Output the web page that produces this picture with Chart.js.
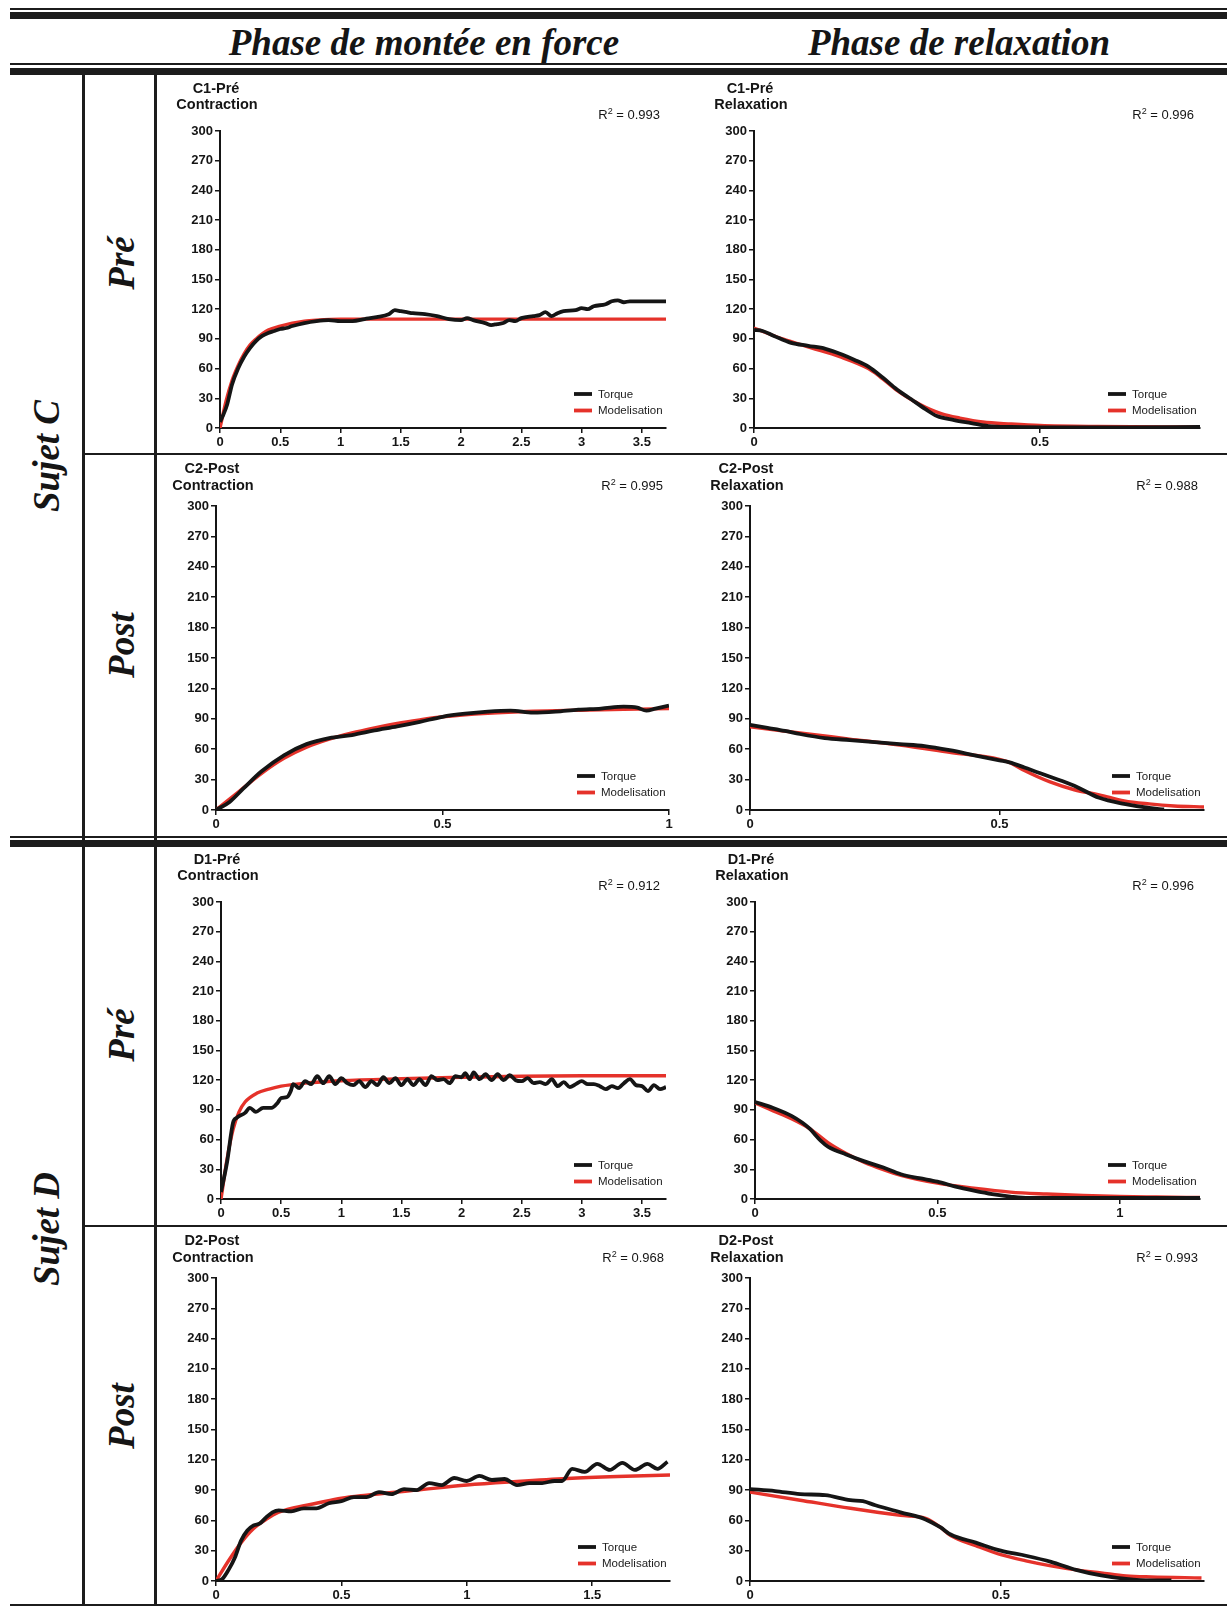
<!DOCTYPE html>
<html lang="fr">
<head>
<meta charset="utf-8">
<script src="https://cdn.jsdelivr.net/npm/chart.js@4.4.0/dist/chart.umd.min.js"></script>
<style>
  body { margin: 0; background: #fff; }
  #page { position: relative; width: 1227px; height: 1612px; overflow: hidden; background: #fff; }
  .rule { position: absolute; background: #1c1c1c; }
  .head, .rot {
    position: absolute; white-space: nowrap; color: #151515;
    font: italic bold 37px/37px "Liberation Serif", "Times New Roman", serif;
  }
  .head { width: 500px; text-align: center; top: 24px; }
  .rot { transform: translate(-50%, -50%) rotate(-90deg); }
  canvas { position: absolute; }
</style>
</head>
<body>
<div id="page">
  <!-- en-tête -->
  <div class="rule" style="left:10px;top:8px;width:1217px;height:2px"></div>
  <div class="rule" style="left:10px;top:12px;width:1217px;height:7px"></div>
  <div class="head" style="left:174px">Phase de montée en force</div>
  <div class="head" style="left:709px">Phase de relaxation</div>
  <div class="rule" style="left:10px;top:63px;width:1217px;height:2px"></div>
  <div class="rule" style="left:10px;top:68px;width:1217px;height:7px"></div>

  <!-- grille du tableau -->
  <div class="rule" style="left:82px;top:75px;width:3px;height:1531px"></div>
  <div class="rule" style="left:154px;top:75px;width:3px;height:1531px"></div>
  <div class="rule" style="left:82px;top:453px;width:1145px;height:2px"></div>
  <div class="rule" style="left:10px;top:836px;width:1217px;height:2px"></div>
  <div class="rule" style="left:10px;top:840px;width:1217px;height:7px"></div>
  <div class="rule" style="left:82px;top:1225px;width:1145px;height:2px"></div>
  <div class="rule" style="left:10px;top:1604px;width:1217px;height:2px"></div>

  <!-- libellés de lignes -->
  <div class="rot" style="left:46px;top:456px">Sujet C</div>
  <div class="rot" style="left:121px;top:263px">Pré</div>
  <div class="rot" style="left:121px;top:645px">Post</div>
  <div class="rot" style="left:46px;top:1229px">Sujet D</div>
  <div class="rot" style="left:121px;top:1035px">Pré</div>
  <div class="rot" style="left:121px;top:1416px">Post</div>
</div>

<script>
// === DONNÉES (temps en s, couple en N.m) =====================================
const yTickStep = 30;
const yMax = 300;
const xTickStep = 0.5;

// C1 - Pré
const c1ContrTorque = [[0,6],[0.03,14],[0.06,24],[0.1,44],[0.15,60],[0.2,72],[0.25,81],[0.3,88],[0.35,93],[0.4,96],[0.45,98],[0.5,100],[0.55,101],[0.6,103],[0.7,106],[0.8,108],[0.9,109],[1.0,108],[1.1,108],[1.2,110],[1.3,112],[1.4,115],[1.45,119],[1.5,118],[1.55,117],[1.6,116],[1.7,115],[1.8,113],[1.9,110],[2.0,109],[2.05,111],[2.1,109],[2.2,106],[2.25,104],[2.3,105],[2.35,106],[2.4,109],[2.45,108],[2.5,111],[2.6,113],[2.65,114],[2.7,117],[2.75,113],[2.8,116],[2.85,118],[2.95,119],[3.0,121],[3.05,120],[3.1,123],[3.2,125],[3.25,128],[3.3,129],[3.35,127],[3.4,128],[3.5,128],[3.7,128]];
const c1ContrModel  = [[0,0],[0.05,27],[0.1,48],[0.15,63],[0.2,75],[0.25,84],[0.3,90],[0.35,95],[0.4,99],[0.5,103],[0.6,106],[0.7,108],[0.8,109],[1.0,110],[1.5,110],[2.0,110],[3.7,110]];
const c1RelaxTorque = [[0,99],[0.015,98],[0.035,93],[0.065,86],[0.095,83],[0.125,80],[0.155,74],[0.175,69],[0.2,62],[0.225,51],[0.25,39],[0.275,29],[0.3,19],[0.32,12],[0.35,8],[0.38,5],[0.41,2],[0.45,1],[0.55,0.5],[0.65,0.5],[0.78,1]];
const c1RelaxModel  = [[0,101],[0.05,90],[0.1,81],[0.15,72],[0.2,60],[0.22,52],[0.25,38],[0.28,27],[0.3,21],[0.33,14],[0.36,10],[0.4,6],[0.45,4],[0.5,2.5],[0.6,1.5],[0.78,1]];

// C2 - Post
const c2ContrTorque = [[0,0],[0.03,8],[0.06,21],[0.1,38],[0.15,54],[0.2,65],[0.25,71],[0.3,74],[0.35,78.5],[0.4,82.5],[0.45,87],[0.5,92],[0.55,95],[0.6,97],[0.65,98],[0.7,96],[0.75,97],[0.8,99],[0.85,100],[0.9,102],[0.93,101],[0.95,98],[0.97,100],[1.0,103]];
const c2ContrModel  = [[0,0],[0.05,18],[0.1,36],[0.15,51],[0.2,62],[0.25,70],[0.3,76],[0.35,81],[0.4,85.5],[0.45,89],[0.5,92],[0.6,95.5],[0.7,97.5],[0.8,98.5],[0.9,99.3],[1.0,100]];
const c2RelaxTorque = [[0,84],[0.035,81],[0.07,78],[0.1,75],[0.15,71],[0.2,69],[0.25,67],[0.3,65],[0.35,63],[0.4,59],[0.45,54],[0.5,49],[0.52,47],[0.55,42],[0.6,33],[0.65,24],[0.7,12],[0.75,6],[0.8,2],[0.83,0.5]];
const c2RelaxModel  = [[0,82],[0.1,76],[0.2,70],[0.3,64],[0.4,57],[0.5,50],[0.52,47],[0.55,39],[0.6,28],[0.65,20],[0.7,15],[0.75,9],[0.8,6],[0.85,4],[0.91,3]];

// D1 - Pré
const d1ContrTorque = [[0,7],[0.05,37],[0.1,77],[0.13,82],[0.2,87],[0.24,92],[0.29,88],[0.35,92],[0.42,92],[0.47,97],[0.5,102],[0.55,103],[0.58,109],[0.6,116],[0.65,112],[0.7,119],[0.75,116],[0.8,124],[0.85,117],[0.9,124],[0.95,116],[1.0,122],[1.05,117],[1.1,115],[1.15,119],[1.2,113],[1.25,119],[1.3,115],[1.35,123],[1.4,117],[1.45,122],[1.5,115],[1.55,121],[1.6,115],[1.65,121],[1.7,115],[1.75,124],[1.8,120],[1.85,121],[1.9,117],[1.95,124],[2.0,123],[2.03,127],[2.07,121],[2.1,128],[2.15,121],[2.2,126],[2.25,120],[2.3,126],[2.35,120],[2.4,125],[2.45,120],[2.5,119],[2.55,122],[2.6,117],[2.65,118],[2.7,116],[2.75,121],[2.8,114],[2.85,118],[2.9,113],[2.95,116],[3.0,119],[3.05,116],[3.1,116],[3.15,114],[3.2,111],[3.25,114],[3.3,112],[3.35,117],[3.4,121],[3.45,115],[3.5,114],[3.55,109],[3.6,115],[3.65,111],[3.7,113]];
const d1ContrModel  = [[0,0],[0.05,40],[0.1,70],[0.15,88],[0.2,98],[0.3,107],[0.4,111],[0.5,114],[0.7,117],[1.0,119.5],[1.5,121.5],[2.0,123],[2.5,124],[3.0,124.5],[3.7,124.5]];
const d1RelaxTorque = [[0,98],[0.05,92],[0.1,84],[0.13,77],[0.15,71],[0.18,59],[0.2,53],[0.25,45],[0.3,38],[0.35,32],[0.4,25],[0.45,21],[0.5,17.5],[0.55,12.5],[0.6,8.5],[0.65,5],[0.7,2.5],[0.75,1],[0.85,1],[1.0,1],[1.22,1]];
const d1RelaxModel  = [[0,97],[0.05,89],[0.1,81],[0.15,71],[0.2,57],[0.25,46],[0.3,37],[0.35,30],[0.4,24],[0.5,16],[0.6,11],[0.7,7],[0.8,5],[0.9,3.5],[1.0,2.5],[1.1,2],[1.22,1.5]];

// D2 - Post
const d2ContrTorque = [[0,0],[0.025,2],[0.05,11],[0.075,23],[0.1,40],[0.125,50],[0.15,55],[0.175,57],[0.2,63],[0.225,68],[0.25,70],[0.3,69],[0.35,72],[0.4,72],[0.45,77],[0.5,79],[0.55,83],[0.6,83],[0.65,88],[0.7,86],[0.75,91],[0.8,90],[0.85,97],[0.9,95],[0.95,102],[1.0,99],[1.05,104],[1.1,100],[1.15,101],[1.2,95],[1.25,97],[1.3,97],[1.35,99],[1.38,99],[1.42,111],[1.47,108],[1.52,116],[1.57,110],[1.62,117],[1.67,110],[1.72,116],[1.76,111],[1.8,118]];
const d2ContrModel  = [[0,0],[0.05,20],[0.1,38],[0.15,52],[0.2,61],[0.25,68],[0.3,72],[0.4,77],[0.5,82],[0.6,85],[0.8,90],[1.0,95],[1.2,98.5],[1.4,101.5],[1.6,103.5],[1.81,105]];
const d2RelaxTorque = [[0,91],[0.05,89],[0.1,86],[0.15,85],[0.2,80],[0.225,79],[0.25,75],[0.3,68],[0.35,61],[0.38,53],[0.4,46],[0.45,38],[0.5,30],[0.55,25],[0.6,19],[0.65,11],[0.7,5.5],[0.75,2],[0.8,0.5],[0.84,0.5]];
const d2RelaxModel  = [[0,88],[0.1,80],[0.2,72],[0.3,65],[0.35,62],[0.38,53],[0.4,45],[0.45,35],[0.5,26],[0.55,20],[0.6,15],[0.65,11],[0.7,8],[0.75,5],[0.8,4],[0.9,3]];

// === PANNEAUX (zone de tracé en px : gauche, haut, droite, bas) =============
const PRE  = { titleY: [42, 26], r2Y: 15.5 };
const POST = { titleY: [37.5, 20.5], r2Y: 19.5 };

const panels = [
  { box: [220, 131, 666, 428],   xMax: 3.7,  title: ['C1-Pré', 'Contraction'],  r2: '0.993', torque: c1ContrTorque, model: c1ContrModel, pos: PRE },
  { box: [754, 131, 1200, 428],  xMax: 0.78, title: ['C1-Pré', 'Relaxation'],   r2: '0.996', torque: c1RelaxTorque, model: c1RelaxModel, pos: PRE },
  { box: [216, 506, 669, 810],   xMax: 1.0,  title: ['C2-Post', 'Contraction'], r2: '0.995', torque: c2ContrTorque, model: c2ContrModel, pos: POST },
  { box: [750, 506, 1204, 810],  xMax: 0.91, title: ['C2-Post', 'Relaxation'],  r2: '0.988', torque: c2RelaxTorque, model: c2RelaxModel, pos: POST },
  { box: [221, 902, 666, 1199],  xMax: 3.7,  title: ['D1-Pré', 'Contraction'],  r2: '0.912', torque: d1ContrTorque, model: d1ContrModel, pos: PRE },
  { box: [755, 902, 1200, 1199], xMax: 1.22, title: ['D1-Pré', 'Relaxation'],   r2: '0.996', torque: d1RelaxTorque, model: d1RelaxModel, pos: PRE },
  { box: [216, 1278, 670, 1581], xMax: 1.81, title: ['D2-Post', 'Contraction'], r2: '0.968', torque: d2ContrTorque, model: d2ContrModel, pos: POST },
  { box: [750, 1278, 1204, 1581],xMax: 0.905,title: ['D2-Post', 'Relaxation'],  r2: '0.993', torque: d2RelaxTorque, model: d2RelaxModel, pos: POST }
];

// === HELPERS ================================================================
const FONT = '"Liberation Sans", Arial, Helvetica, sans-serif';
const INK = '#151515';
const RED = '#e5322a';
const PAD_L = 60, PAD_T = 62, PAD_R = 10, PAD_B = 24;

const toPoints = arr => arr.map(([x, y]) => ({ x, y }));

// titre, R² et légende dans le cadre du graphique
const decorPlugin = {
  id: 'decor',
  afterDatasetsDraw(chart, args, o) {
    const { ctx, chartArea: a } = chart;
    ctx.save();
    ctx.fillStyle = INK;
    ctx.textBaseline = 'middle';

    ctx.font = `bold 14.5px ${FONT}`;
    ctx.textAlign = 'center';
    ctx.fillText(o.title[0], a.left - 4, a.top - o.titleY[0]);
    ctx.fillText(o.title[1], a.left - 3, a.top - o.titleY[1]);

    // R² = ...
    ctx.textAlign = 'right';
    let x = a.right - 6;
    const y = a.top - o.r2Y;
    const rest = ' = ' + o.r2;
    ctx.font = `13px ${FONT}`;
    ctx.fillText(rest, x, y);
    x -= ctx.measureText(rest).width;
    ctx.font = `9px ${FONT}`;
    ctx.fillText('2', x, y - 4);
    x -= ctx.measureText('2').width;
    ctx.font = `13px ${FONT}`;
    ctx.fillText('R', x, y);

    // légende
    ctx.font = `11.5px ${FONT}`;
    ctx.textAlign = 'left';
    ctx.lineCap = 'butt';
    chart.data.datasets.forEach((ds, i) => {
      const ly = a.bottom - (i === 0 ? 34 : 17.5);
      ctx.strokeStyle = ds.borderColor;
      ctx.lineWidth = 3.8;
      ctx.beginPath();
      ctx.moveTo(a.right - 92, ly);
      ctx.lineTo(a.right - 74, ly);
      ctx.stroke();
      ctx.fillStyle = '#222';
      ctx.fillText(ds.label, a.right - 68, ly + 0.5);
    });
    ctx.restore();
  }
};

function criaPainel(p) {
  const [l, t, r, b] = p.box;
  const cv = document.createElement('canvas');
  cv.width = r - l + PAD_L + PAD_R;
  cv.height = b - t + PAD_T + PAD_B;
  cv.style.left = (l - PAD_L) + 'px';
  cv.style.top = (t - PAD_T) + 'px';
  document.getElementById('page').appendChild(cv);

  const axisCommon = {
    type: 'linear',
    border: { display: true, color: INK, width: 2 },
    grid: { display: true, drawOnChartArea: false, drawTicks: true, tickLength: 5, color: INK, lineWidth: 1.5 },
  };

  return new Chart(cv, {
    type: 'line',
    data: {
      datasets: [
        { label: 'Torque', data: toPoints(p.torque), borderColor: INK, borderWidth: 3.8,
          pointRadius: 0, cubicInterpolationMode: 'monotone', fill: false },
        { label: 'Modelisation', data: toPoints(p.model), borderColor: RED, borderWidth: 3.4,
          pointRadius: 0, cubicInterpolationMode: 'monotone', fill: false }
      ]
    },
    options: {
      responsive: false,
      animation: false,
      events: [],
      layout: { padding: { left: 0, top: PAD_T, right: PAD_R, bottom: 0 } },
      plugins: {
        legend: { display: false },
        tooltip: { enabled: false },
        decor: { title: p.title, r2: p.r2, titleY: p.pos.titleY, r2Y: p.pos.r2Y }
      },
      scales: {
        x: {
          ...axisCommon,
          min: 0, max: p.xMax,
          afterFit: s => { s.height = PAD_B; },
          ticks: { stepSize: xTickStep, includeBounds: false, padding: 2, color: INK,
                   maxRotation: 0, autoSkip: false,
                   font: { family: FONT, weight: 'bold', size: 13 },
                   callback: v => String(Math.round(v * 100) / 100) }
        },
        y: {
          ...axisCommon,
          min: 0, max: yMax,
          afterFit: s => { s.width = PAD_L; },
          ticks: { stepSize: yTickStep, padding: 2, color: INK,
                   font: { family: FONT, weight: 'bold', size: 13 } }
        }
      }
    },
    plugins: [decorPlugin]
  });
}

// === GRÁFICOS ==============================================================
panels.forEach(criaPainel);
</script>
</body>
</html>
